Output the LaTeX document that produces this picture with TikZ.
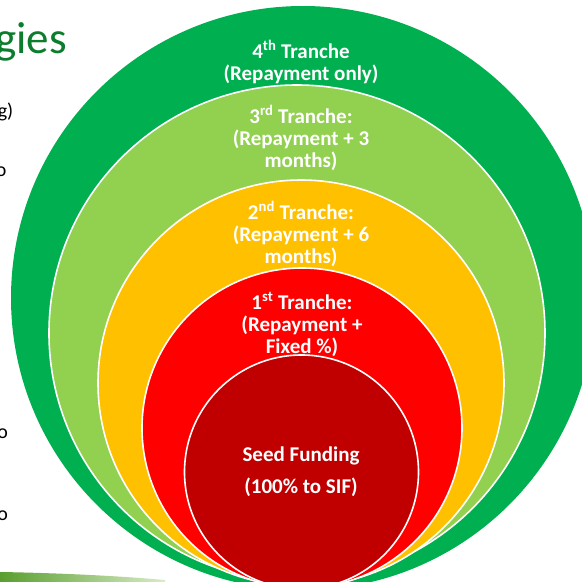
\documentclass[tikz,border=0pt]{standalone}
\usepackage{fontspec}
\setmainfont{Carlito}
\definecolor{cgreen}{HTML}{00B050}
\definecolor{clight}{HTML}{92D050}
\definecolor{cyellow}{HTML}{FFC000}
\definecolor{cred}{HTML}{FF0000}
\definecolor{cdark}{HTML}{C00000}
\definecolor{ctitle}{HTML}{0B7D2D}
\definecolor{swoopA}{HTML}{5A9E2F}
\definecolor{swoopB}{HTML}{D8EBC6}
\begin{document}
\begin{tikzpicture}[x=1pt,y=-1pt,
  ring/.style={draw=white,line width=1.6pt},
  lbl/.style={text=white,font=\bfseries\fontsize{21}{22}\selectfont,align=center,anchor=base,inner sep=0pt},
  side/.style={text=black,font=\fontsize{20}{24}\selectfont,anchor=base east,inner sep=0pt}]
\useasboundingbox (0,0) rectangle (582,582);
\begin{scope}
\clip (0,0) rectangle (582,582);
% left-hand cropped slide text
\node[text=ctitle,font=\fontsize{45}{50}\selectfont,anchor=base west,inner sep=0pt] (title) at (-5,53) {gies};
\node[side] (s1) at (13.5,117) {g)};
\node[side] (s2) at (6.5,176) {o};
\node[side] (s3) at (8,438) {o};
\node[side] (s4) at (8,520) {o};
% bottom swoosh
\shade[left color=swoopA,right color=swoopB] (0,572) .. controls (60,573) and (120,576) .. (165,580) -- (165,583) -- (0,583) -- cycle;
% nested circles
\fill[cgreen] (303,298) circle[radius=292];
\node[lbl] (t4) at (301,80) {4\textsuperscript{th} Tranche\\(Repayment only)};
\filldraw[ring,fill=clight] (297,333) circle[radius=248];
\node[lbl] (t3) at (301,167) {3\textsuperscript{rd} Tranche:\\(Repayment + 3\\months)};
\filldraw[ring,fill=cyellow] (301,383) circle[radius=203];
\node[lbl] (t2) at (301,263) {2\textsuperscript{nd} Tranche:\\(Repayment + 6\\months)};
\filldraw[ring,fill=cred] (302,428) circle[radius=160];
\node[lbl] (t1) at (302,353) {1\textsuperscript{st} Tranche:\\(Repayment +\\Fixed \%)};
\filldraw[ring,fill=cdark] (301.5,472) circle[radius=117];
\node[lbl] (t0) at (301,493) {Seed Funding\\[10pt](100\% to SIF)};
\end{scope}
\end{tikzpicture}
\end{document}
